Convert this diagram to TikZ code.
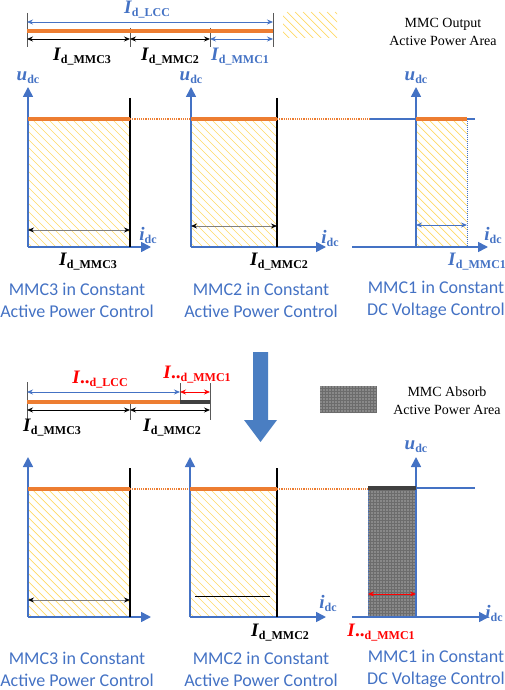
\documentclass[tikz,border=0pt]{standalone}
\usepackage{fontspec}
\setmainfont{Liberation Serif}
\newfontfamily\calib{Carlito}
\usepackage{tikz}
\usetikzlibrary{arrows.meta}
\usetikzlibrary{patterns.meta}
\definecolor{ax-blue}{HTML}{4472C4}
\definecolor{pw-orange}{HTML}{ED7D31}
\definecolor{hatch-yellow}{HTML}{FFD966}
\definecolor{ab-gray}{HTML}{404040}
\definecolor{dim-red}{HTML}{FF0000}
\definecolor{arr-blue}{HTML}{4A7EC2}

% current labels
\newcommand{\Id}[1]{{\fontsize{19}{20}\selectfont\textbf{\textit{I}}}\raisebox{-3pt}{\fontsize{12}{13}\selectfont\textbf{d\_#1}}}
\newcommand{\Idd}[1]{{\fontsize{19}{20}\selectfont\textbf{\textit{I}}\textbf{..}}\raisebox{-3pt}{\fontsize{12}{13}\selectfont\textbf{d\_#1}}}
\newcommand{\Udc}{{\fontsize{19}{20}\selectfont\textbf{\textit{u}}}\raisebox{-3pt}{\fontsize{12}{13}\selectfont\textbf{dc}}}
\newcommand{\Idc}{{\fontsize{19}{20}\selectfont\textbf{\textit{i}}}\raisebox{-3pt}{\fontsize{12}{13}\selectfont\textbf{dc}}}
% yellow hatched area: x1, y1, x2, y2
\newcommand{\hatchrect}[4]{%
    \begin{scope}
        \clip (#1,#2) rectangle (#3,#4);
        \foreach \k in {-140,-132,...,110}
            \draw[hatch-yellow, line width=0.7pt] (#1+\k,#2) -- ++(150,150);
    \end{scope}}

\tikzset{
    axis/.style={ax-blue, line width=1.6pt, -{Triangle[length=10pt,width=10pt]}},
    limit/.style={black, line width=1.4pt},
    pline/.style={pw-orange, line width=3.6pt},
    aline/.style={ab-gray, line width=3.6pt},
    dim/.style={gray, line width=0.8pt, {Stealth[length=6pt,width=5pt,black]}-{Stealth[length=6pt,width=5pt,black]}},
    barrow/.style={line width=0.8pt, {Stealth[length=6pt,width=5pt]}-{Stealth[length=6pt,width=5pt]}},
    tick/.style={gray!70!black, line width=0.8pt},
    dotsfill/.style={pattern={Dots[radius=0.7pt,distance=3pt]}, pattern color=white!85!gray},
    lab/.style={inner sep=0pt},
    ctitle/.style={font=\calib\fontsize{18}{22}\selectfont, text=ax-blue, align=center, inner sep=0pt},
    legtext/.style={font=\fontsize{14}{18}\selectfont, align=center, inner sep=0pt}
}

\begin{document}
\begin{tikzpicture}[x=1pt, y=-1pt]
    \useasboundingbox (0,0) rectangle (505,690);

    % --- Top bar: current sharing before ---
    \draw[tick] (27,13) -- (27,47);
    \draw[tick] (273,13) -- (273,47);
    \draw[tick] (130,28) -- (130,47);
    \draw[tick] (210,28) -- (210,47);
    \draw[barrow, ax-blue] (27,22) -- (273,22);
    \draw[pline] (27,31) -- (273,31);
    \draw[barrow, black] (27,39) -- (130,39);
    \draw[barrow, black] (130,39) -- (210,39);
    \draw[barrow, ax-blue] (210,39) -- (273,39);
    \node[lab, ax-blue] (lcc) at (147,10) {\Id{LCC}};
    \node[lab] (b3) at (82,57) {\Id{MMC3}};
    \node[lab] (b2) at (170,57) {\Id{MMC2}};
    \node[lab, ax-blue] (b1) at (240,57) {\Id{MMC1}};

    % legend: output area
    \hatchrect{283}{12}{337}{38}
    \node[legtext] (legout) at (443,32) {MMC Output\\Active Power Area};

    % --- Top row of characteristics ---
    % MMC3
    \hatchrect{28}{119}{130}{247}
    \draw[axis] (28,247) -- (28,87);
    \draw[axis] (28,247) -- (151,247);
    \draw[limit] (130,98) -- (130,247);
    \draw[pline] (28,119) -- (130,119);
    \draw[pw-orange, line width=1.2pt, densely dotted] (130,119) -- (191,119);
    \draw[dim] (28,230) -- (130,230);
    \node[lab, ax-blue] (u3) at (28,78) {\Udc};
    \node[lab, ax-blue] (i3) at (148,235) {\Idc};
    \node[lab] (l3) at (88,262) {\Id{MMC3}};

    % MMC2
    \hatchrect{191}{119}{277}{247}
    \draw[axis] (191,247) -- (191,87);
    \draw[axis] (191,247) -- (326,247);
    \draw[limit] (277,98) -- (277,247);
    \draw[pline] (191,119) -- (277,119);
    \draw[pw-orange, line width=1.2pt, densely dotted] (277,119) -- (370,119);
    \draw[dim] (191,226) -- (277,226);
    \node[lab, ax-blue] (u2) at (191,78) {\Udc};
    \node[lab, ax-blue] (i2) at (330,238) {\Idc};
    \node[lab] (l2) at (279,262) {\Id{MMC2}};

    % MMC1
    \hatchrect{416}{119}{467}{247}
    \draw[ax-blue, line width=1.6pt] (370,119) -- (475,119);
    \draw[axis] (416,247) -- (416,87);
    \draw[axis] (352,247) -- (488,247);
    \draw[ax-blue, line width=1pt, densely dotted] (467,119) -- (467,247);
    \draw[pline] (416,119) -- (467,119);
    \draw[barrow, ax-blue] (416,225) -- (467,225);
    \node[lab, ax-blue] (u1) at (416,78) {\Udc};
    \node[lab, ax-blue] (i1) at (493,235) {\Idc};
    \node[lab, ax-blue] (l1) at (477,262) {\Id{MMC1}};

    \node[ctitle] (c3) at (77,300) {MMC3 in Constant\\Active Power Control};
    \node[ctitle] (c2) at (261,300) {MMC2 in Constant\\Active Power Control};
    \node[ctitle] (c1) at (436,300) {MMC1 in Constant\\DC Voltage Control};

    % --- Transition arrow ---
    \fill[arr-blue] (253,352) -- (268,352) -- (268,420) -- (277,420) -- (260.5,442)
        -- (244,420) -- (253,420) -- cycle;

    % --- Bottom bar: current sharing after ---
    \draw[tick] (27,382) -- (27,420);
    \draw[tick] (180,383) -- (180,402);
    \draw[tick] (130,402) -- (130,420);
    \draw[tick] (210,383) -- (210,420);
    \draw[barrow, ax-blue] (27,392) -- (180,392);
    \draw[barrow, dim-red] (180,392) -- (210,392);
    \draw[pline] (27,402) -- (180,402);
    \draw[aline] (180,402) -- (210,402);
    \draw[barrow, black] (27,410) -- (130,410);
    \draw[barrow, black] (130,410) -- (210,410);
    \node[lab, dim-red] (lccb) at (100,380) {\Idd{LCC}};
    \node[lab, dim-red] (b1b) at (197,375) {\Idd{MMC1}};
    \node[lab] (b3b) at (52,428) {\Id{MMC3}};
    \node[lab] (b2b) at (172,428) {\Id{MMC2}};

    % legend: absorb area
    \fill[gray!85!black] (320,386) rectangle (377,413);
    \fill[dotsfill] (320,386) rectangle (377,413);
    \node[legtext] (legabs) at (447,401) {MMC Absorb\\Active Power Area};

    % --- Bottom row of characteristics ---
    % MMC3
    \hatchrect{28}{489}{130}{617}
    \draw[axis] (28,617) -- (28,457);
    \draw[axis] (28,617) -- (151,617);
    \draw[limit] (130,468) -- (130,617);
    \draw[pline] (28,489) -- (130,489);
    \draw[pw-orange, line width=1.2pt, densely dotted] (130,489) -- (190,489);
    \draw[dim] (28,600) -- (130,600);

    % MMC2
    \hatchrect{190}{489}{277}{617}
    \draw[axis] (190,617) -- (190,457);
    \draw[axis] (190,617) -- (326,617);
    \draw[limit] (277,468) -- (277,617);
    \draw[pline] (190,489) -- (277,489);
    \draw[pw-orange, line width=1.2pt, densely dotted] (277,489) -- (368,489);
    \draw[black, line width=0.6pt] (195,596) -- (270,596);
    \node[lab, ax-blue] (i2b) at (328,603) {\Idc};
    \node[lab] (l2b) at (280,633) {\Id{MMC2}};

    % MMC1
    \fill[gray!85!black] (368,488) rectangle (416,617);
    \fill[dotsfill] (368,488) rectangle (416,617);
    \draw[ax-blue, line width=1.6pt] (416,488) -- (475,488);
    \draw[axis] (416,617) -- (416,457);
    \draw[axis] (352,617) -- (489,617);
    \draw[ax-blue, line width=1pt, densely dotted] (368,488) -- (368,617);
    \draw[aline] (368,488) -- (416,488);
    \draw[barrow, dim-red] (368,594) -- (416,594);
    \node[lab, ax-blue] (u1b) at (416,447) {\Udc};
    \node[lab, ax-blue] (i1b) at (494,613) {\Idc};
    \node[lab, dim-red] (l1b) at (381,633) {\Idd{MMC1}};

    \node[ctitle] (c3b) at (77,669) {MMC3 in Constant\\Active Power Control};
    \node[ctitle] (c2b) at (261,669) {MMC2 in Constant\\Active Power Control};
    \node[ctitle] (c1b) at (436,669) {MMC1 in Constant\\DC Voltage Control};
\end{tikzpicture}
\end{document}
